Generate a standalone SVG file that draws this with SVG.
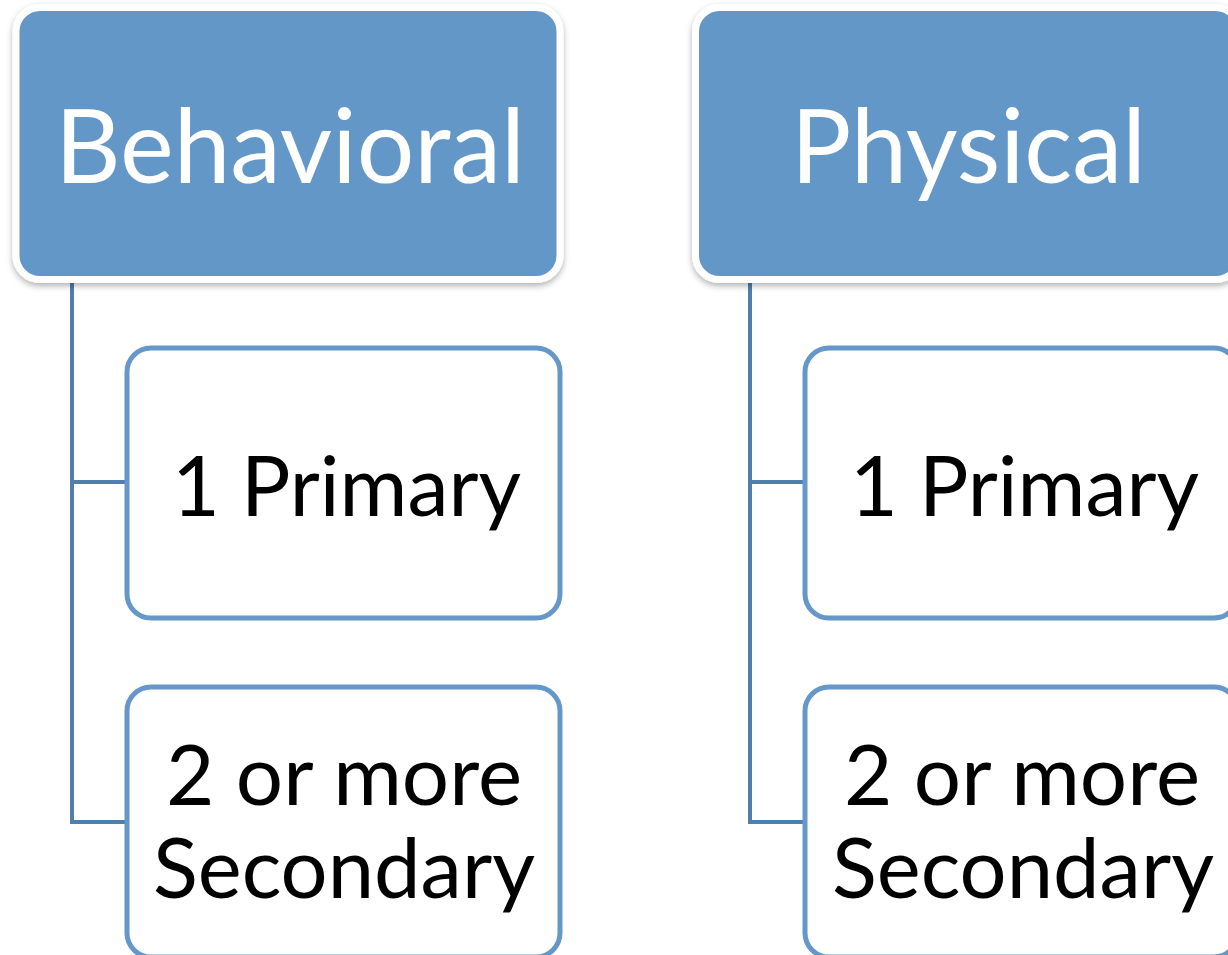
<svg xmlns="http://www.w3.org/2000/svg" width="1228" height="955" viewBox="0 0 1228 955">
<defs>
<filter id="sh" x="-10%" y="-10%" width="120%" height="125%">
<feDropShadow dx="0" dy="3" stdDeviation="3" flood-color="#000" flood-opacity="0.3"/>
</filter>
</defs>
<style>
.head{fill:#6297c8;stroke:#ffffff;stroke-width:7;filter:url(#sh)}
.child{fill:#ffffff;stroke:#6598c9;stroke-width:5}
.conn{fill:none;stroke:#4f7fad;stroke-width:4}
.ht{font-family:Lato,"Open Sans",sans-serif;font-size:102px;fill:#ffffff}
.ct{font-family:Lato,"Open Sans",sans-serif;font-size:84px;fill:#000000}
</style>
<rect width="1228" height="955" fill="#ffffff"/>
<g id="connectors">
<path class="conn" d="M72,280 V822 H125 M72,482 H125"/>
<path class="conn" d="M750,280 V822 H803 M750,482 H803"/>
</g>
<g id="behavioral">
<rect class="head" x="16" y="7.5" width="544" height="272" rx="24"/>
<text class="ht" x="55" y="183" textLength="470" lengthAdjust="spacingAndGlyphs">Behavioral</text>
</g>
<g id="physical">
<rect class="head" x="695.5" y="7.5" width="544" height="272" rx="24"/>
<text class="ht" x="791" y="183" textLength="355" lengthAdjust="spacingAndGlyphs">Physical</text>
</g>
<g id="b-primary">
<rect class="child" x="127" y="348" width="433" height="270" rx="24"/>
<text class="ct" x="172" y="516" textLength="349" lengthAdjust="spacingAndGlyphs">1 Primary</text>
</g>
<g id="b-secondary">
<rect class="child" x="127" y="687" width="433" height="270" rx="24"/>
<text class="ct" x="166" y="805" textLength="356" lengthAdjust="spacingAndGlyphs">2 or more</text>
<text class="ct" x="153" y="898" textLength="382" lengthAdjust="spacingAndGlyphs">Secondary</text>
</g>
<g id="p-primary">
<rect class="child" x="805" y="348" width="433" height="270" rx="24"/>
<text class="ct" x="850" y="516" textLength="349" lengthAdjust="spacingAndGlyphs">1 Primary</text>
</g>
<g id="p-secondary">
<rect class="child" x="805" y="687" width="433" height="270" rx="24"/>
<text class="ct" x="844" y="805" textLength="356" lengthAdjust="spacingAndGlyphs">2 or more</text>
<text class="ct" x="832" y="898" textLength="382" lengthAdjust="spacingAndGlyphs">Secondary</text>
</g>
</svg>
